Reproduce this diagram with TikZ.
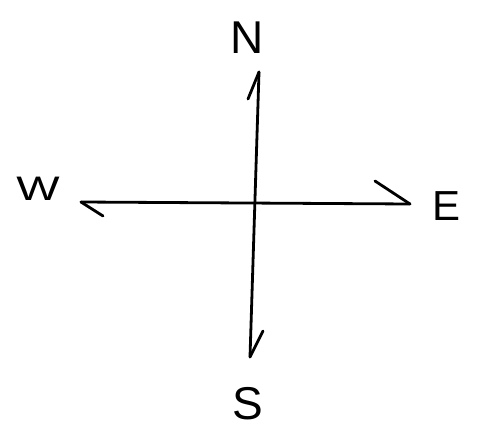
\documentclass[tikz,border=0pt]{standalone}
\usepackage{fontspec}
\setmainfont{Liberation Sans}
\usepackage{tikz}
\usetikzlibrary{positioning,calc}
\tikzset{
  penStroke/.style={line width=2.8pt, line cap=round, line join=round, draw=black},
  penLetter/.style={inner sep=0pt, font=\fontsize{46}{46}\selectfont}
}

\begin{document}
\begin{tikzpicture}[x=1pt,y=-1pt]
  \useasboundingbox (0,0) rectangle (479,433);
  % tips of the two strokes
  \coordinate (tipN) at (259,72);
  \coordinate (tipS) at (250,357);
  \coordinate (tipW) at (81,202);
  \coordinate (tipE) at (410,204);
  % barbs
  \coordinate (barbN) at (248,99);
  \coordinate (barbS) at (263,331);
  \coordinate (barbW) at (103,216);
  \coordinate (barbE) at (375,181);
  \draw[penStroke] (tipN) -- (tipS);
  \draw[penStroke] (tipW) -- (tipE);
  \draw[penStroke] (tipN) -- (barbN);
  \draw[penStroke] (tipS) -- (barbS);
  \draw[penStroke] (tipW) -- (barbW);
  \draw[penStroke] (tipE) -- (barbE);
  % letters
  \node[penLetter] (lblN) at (247,38) {N};
  \node[penLetter] (lblS) at (248,404) {S};
  \node[penLetter, font=\fontsize{34}{34}\selectfont, xscale=1.35] (lblW) at (38,189) {W};
  \node[penLetter, font=\fontsize{42}{42}\selectfont] (lblE) at (447,206) {E};
\end{tikzpicture}
\end{document}
